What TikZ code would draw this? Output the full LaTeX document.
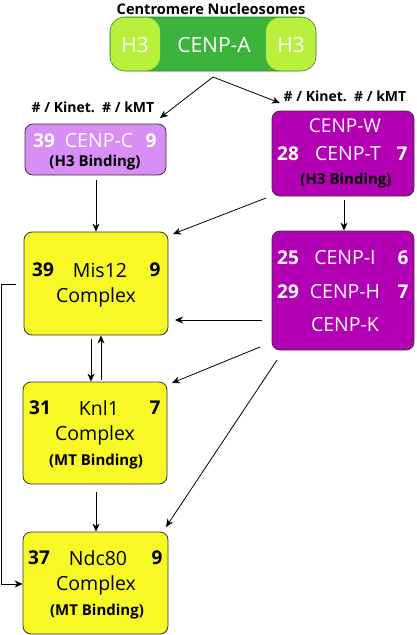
\documentclass[tikz,border=0pt]{standalone}
\usepackage{fontspec}
\setmainfont{Open Sans}
\usetikzlibrary{arrows.meta}
\definecolor{dgreen}{HTML}{3CB43C}
\definecolor{lgreen}{HTML}{B8F03C}
\definecolor{lpurple}{HTML}{D98EF5}
\definecolor{magentab}{HTML}{B400B4}
\definecolor{yellowb}{HTML}{F8F826}
\tikzset{
  box/.style={draw=black!80, line width=0.8pt, rounded corners=8pt},
  wt/.style={text=white, font=\fontsize{19.5}{21}\selectfont, inner sep=0pt},
  wnum/.style={text=white, font=\fontsize{19}{21}\selectfont\bfseries, inner sep=0pt},
  bt/.style={text=black, font=\fontsize{19.5}{21}\selectfont, inner sep=0pt},
  bnum/.style={text=black, font=\fontsize{19}{21}\selectfont\bfseries, inner sep=0pt},
  small/.style={text=black, font=\fontsize{15}{17}\selectfont\bfseries, inner sep=0pt},
  hdr/.style={text=black, font=\fontsize{14}{16}\selectfont\bfseries, inner sep=0pt},
  arr/.style={-{Stealth[length=8pt,width=7pt,inset=2.5pt]}, line width=0.8pt},
  ln/.style={line width=0.8pt}
}
\begin{document}
\begin{tikzpicture}[x=1pt,y=-1pt]
\useasboundingbox (0,0) rectangle (416,635);
% title
\node[hdr, font=\fontsize{14.6}{16}\selectfont\bfseries] (title) at (211,9) {Centromere Nucleosomes};
% nucleosome
\path[fill=dgreen, draw=dgreen!70!black, line width=0.6pt, rounded corners=15pt] (110,17) rectangle (316,71);
\path[fill=lgreen, rounded corners=14pt] (110.5,17.5) rectangle (160,70.5);
\path[fill=lgreen, rounded corners=14pt] (266,17.5) rectangle (315.5,70.5);
\node (nuc) at (213,44) [minimum width=206pt, minimum height=54pt, inner sep=0pt] {};
\node[wt, font=\fontsize{21}{23}\selectfont] (h3l) at (135,45) {H3};
\node[wt, font=\fontsize{21}{23}\selectfont] (cenpa) at (214,45) {CENP-A};
\node[wt, font=\fontsize{21}{23}\selectfont] (h3r) at (291,45) {H3};
\coordinate (split) at (213,77);
% headers
\node[hdr] (hl) at (93,107) {\# / Kinet.~~\# / kMT};
\node[hdr] (hr) at (345,96) {\# / Kinet.~~\# / kMT};
% CENP-C
\node[box, fill=lpurple, minimum width=141pt, minimum height=51pt, inner sep=0pt] (cc) at (95.5,149.5) {};
\node[wnum] (cc1) at (44,141) {39};
\node[wt] (cc2) at (99,141) {CENP-C};
\node[wnum] (cc3) at (151,141) {9};
\node[small] (cc4) at (95,163) {(H3 Binding)};
% CENP-W/T
\node[box, fill=magentab, minimum width=142pt, minimum height=85pt, inner sep=0pt] (cw) at (343,153.5) {};
\node[wnum] (cw1) at (345,126) {\mdseries CENP-W};
\node[wnum] (cw2) at (288,154) {28};
\node[wt] (cw3) at (348,154) {CENP-T};
\node[wnum] (cw4) at (402,154) {7};
\node[small] (cw5) at (346,181) {(H3 Binding)};
% Mis12
\node[box, fill=yellowb, minimum width=144pt, minimum height=103pt, inner sep=0pt] (mis) at (96,283.5) {};
\node[bnum] (mis1) at (43,270) {39};
\node[bt] (mis2) at (100,270) {Mis12};
\node[bnum] (mis3) at (155,270) {9};
\node[bt] (mis4) at (96,297) {Complex};
% CENP-I/H/K
\node[box, fill=magentab, minimum width=142pt, minimum height=119pt, inner sep=0pt] (ci) at (343,290.5) {};
\node[wnum] (ci1) at (288,258) {25};
\node[wt] (ci2) at (345,258) {CENP-I};
\node[wnum] (ci3) at (403,258) {6};
\node[wnum] (ci4) at (288,292) {29};
\node[wt] (ci5) at (345,292) {CENP-H};
\node[wnum] (ci6) at (403,292) {7};
\node[wt] (ci7) at (345,325) {CENP-K};
% Knl1
\node[box, fill=yellowb, minimum width=144pt, minimum height=102pt, inner sep=0pt] (kn) at (95,433) {};
\node[bnum] (kn1) at (40,408) {31};
\node[bt] (kn2) at (99,408) {Knl1};
\node[bnum] (kn3) at (155,408) {7};
\node[bt] (kn4) at (95,435) {Complex};
\node[small] (kn5) at (96,462) {(MT Binding)};
% Ndc80
\node[box, fill=yellowb, minimum width=145pt, minimum height=102pt, inner sep=0pt] (nd) at (95.5,583) {};
\node[bnum] (nd1) at (39,558) {37};
\node[bt] (nd2) at (98,558) {Ndc80};
\node[bnum] (nd3) at (157,558) {9};
\node[bt] (nd4) at (96,585) {Complex};
\node[small] (nd5) at (97,612) {(MT Binding)};
% connectors
\draw[arr] (split) -- (160,118);
\draw[arr] (split) -- (280,103);
\draw[arr] (96,180) -- (mis.north -| 96,0);
\draw[arr] (266,198) -- (173,234);
\draw[arr] (344,200) -- (ci.north -| 344,0);
\draw[arr] (262,320) -- (175,320);
\draw[arr] (91,339) -- (kn.north -| 91,0);
\draw[arr] (101,380) -- (mis.south -| 101,0);
\draw[arr] (260,347) -- (172,383);
\draw[arr] (277,360) -- (166,527);
\draw[arr] (96,492) -- (nd.north -| 96,0);
\draw[arr] (16,284) -- (1,284) -- (1,584) -- (nd.west |- 0,584);
\end{tikzpicture}
\end{document}
